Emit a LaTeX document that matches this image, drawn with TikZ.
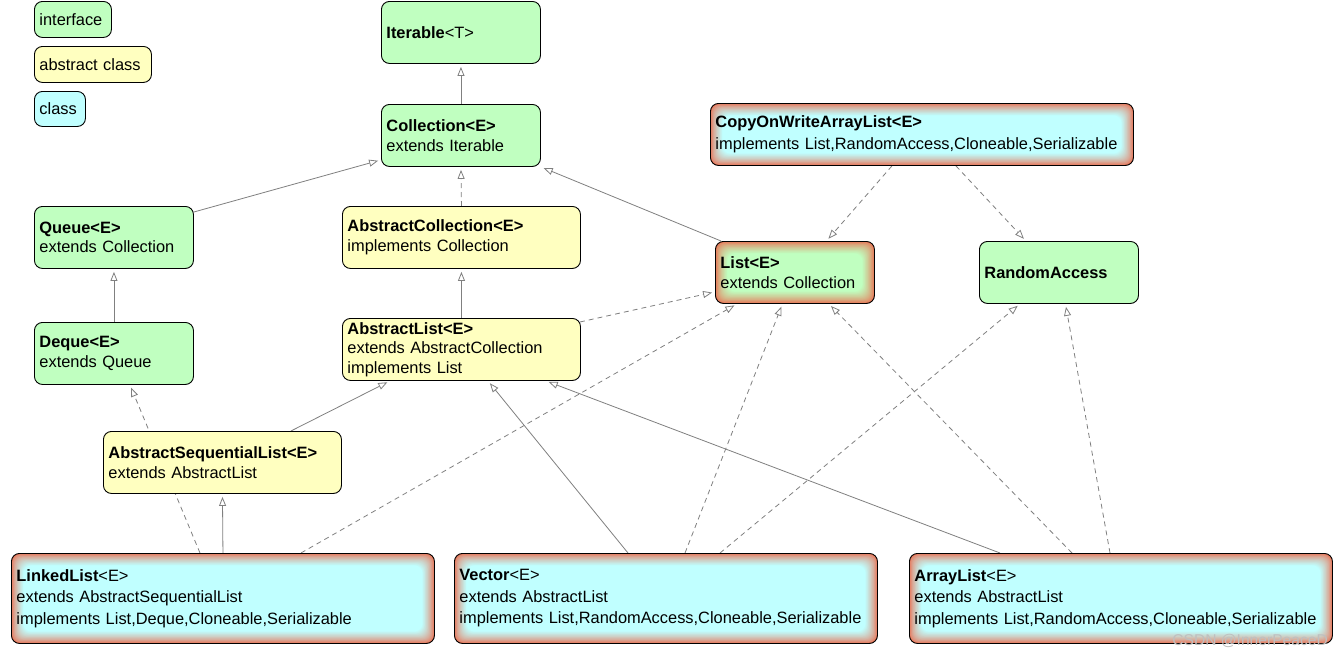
\documentclass[tikz,border=0pt]{standalone}
\usepackage{fontspec}
\setmainfont{Liberation Sans}
\usetikzlibrary{arrows.meta,backgrounds}
\definecolor{ifc}{RGB}{192,255,192}
\definecolor{abc}{RGB}{255,255,192}
\definecolor{clc}{RGB}{192,255,255}
\definecolor{glowred}{RGB}{234,112,82}
\definecolor{linec}{RGB}{128,128,128}
\tikzset{
 box/.style={draw=black, line width=0.9pt, rounded corners=8pt, inner xsep=5pt, inner ysep=0pt, align=left, font=\fontsize{16.4}{19.5}\selectfont},
 iface/.style={box, fill=ifc},
 abst/.style={box, fill=abc},
 cls/.style={box, fill=clc, font=\fontsize{16.4}{21.5}\selectfont},
 glow/.style={path picture={\foreach \i in {0,...,20}{\pgfmathsetmacro\p{100*(\i/20)^0.7}\fill[rounded corners=8pt, #1!\p!glowred] ([shift={({\i*0.6pt},{-\i*0.6pt})}]path picture bounding box.north west) rectangle ([shift={({-\i*0.6pt},{\i*0.6pt})}]path picture bounding box.south east);}}},
 gen/.style={draw=linec, line width=0.8pt, -{Triangle[open,length=9pt,width=7pt]}, shorten >=3pt},
 real/.style={gen, dash pattern=on 5pt off 4pt},
}
\newcommand\mybox[7]{%
 \pgfmathsetmacro\myBW{#4-#2}\pgfmathsetmacro\myBH{#5-#3}\pgfmathsetmacro\myTW{#4-#2-10}%
 \node[#6, anchor=north west, minimum width=\myBW pt, minimum height=\myBH pt, text width=\myTW pt] (#1) at (#2,#3) {#7};}
\begin{document}
\begin{tikzpicture}[x=1pt,y=-1pt]
\useasboundingbox (0,0) rectangle (1343,656);
\mybox{lgi}{34}{1}{111}{37}{iface}{interface}
\mybox{lga}{34}{46}{151}{82}{abst}{abstract class}
\mybox{lgc}{34}{91}{85}{126}{cls}{class}
\mybox{iter}{381}{1}{540}{63}{iface}{\textbf{Iterable}<T>}
\mybox{coll}{381}{104}{540}{166}{iface}{\textbf{Collection<E>}\\extends Iterable}
\mybox{queue}{34}{206}{193}{268}{iface}{\textbf{Queue<E>}\\extends Collection}
\mybox{acoll}{342}{206}{580}{268}{abst}{\textbf{AbstractCollection<E>}\\implements Collection}
\mybox{list}{715}{241}{874}{303}{iface,glow=ifc}{\textbf{List<E>}\\extends Collection}
\mybox{ra}{979}{241}{1138}{303}{iface}{\textbf{RandomAccess}}
\mybox{cow}{710}{103}{1133}{165}{cls,glow=clc}{\textbf{CopyOnWriteArrayList<E>}\\implements List,RandomAccess,Cloneable,Serializable}
\mybox{deque}{34}{322}{193}{384}{iface}{\textbf{Deque<E>}\\extends Queue}
\mybox{alist}{342}{318}{580}{380}{abst}{\textbf{AbstractList<E>}\\extends AbstractCollection\\implements List}
\mybox{asl}{103}{431}{341}{493}{abst}{\textbf{AbstractSequentialList<E>}\\extends AbstractList}
\mybox{linked}{11}{553}{434}{643}{cls,glow=clc}{\textbf{LinkedList}<E>\\extends AbstractSequentialList\\implements List,Deque,Cloneable,Serializable}
\mybox{vector}{454}{553}{877}{643}{cls,glow=clc}{\textbf{Vector}<E>\\extends AbstractList\\implements List,RandomAccess,Cloneable,Serializable}
\mybox{arrayl}{909}{553}{1332}{643}{cls,glow=clc}{\textbf{ArrayList}<E>\\extends AbstractList\\implements List,RandomAccess,Cloneable,Serializable}
\node[text=gray!50, font=\fontsize{15.6}{18}\selectfont, anchor=base east, inner sep=0pt] (wm) at (1328,645) {CSDN @InnerPeaceD};
\begin{scope}[on background layer]
\fill[white] (0,0) rectangle (1343,656);
\draw[gen] (coll.north) -- (iter.south);
\draw[gen] ([shift={(0pt,-6pt)}]queue.north east) -- ([shift={(0pt,7pt)}]coll.south west);
\draw[real] (acoll.north) -- (coll.south);
\draw[gen] ([shift={(6pt,0pt)}]list.north west) -- (coll.south east);
\draw[real] ([shift={(-30pt,0pt)}]cow.south) -- ([shift={(31.5pt,0pt)}]list.north);
\draw[real] ([shift={(34pt,0pt)}]cow.south) -- ([shift={(-33pt,0pt)}]ra.north);
\draw[gen] (deque.north) -- (queue.south);
\draw[gen] (alist.north) -- (acoll.south);
\draw[real] ([shift={(-1pt,-4pt)}]alist.north east) -- ([shift={(0pt,12pt)}]list.south west);
\draw[real] ([shift={(189pt,0pt)}]linked.north west) -- ([shift={(16pt,0pt)}]deque.south);
\draw[gen] ([shift={(-51pt,0pt)}]asl.north east) -- ([shift={(48pt,0pt)}]alist.south west);
\draw[gen] (linked.north) -- (asl.south);
\draw[real] ([shift={(78pt,0pt)}]linked.north) -- ([shift={(22pt,0pt)}]list.south west);
\draw[gen] ([shift={(174pt,0pt)}]vector.north west) -- ([shift={(146pt,0pt)}]alist.south west);
\draw[real] ([shift={(231pt,0pt)}]vector.north west) -- ([shift={(-12.5pt,0pt)}]list.south);
\draw[real] ([shift={(266pt,0pt)}]vector.north west) -- ([shift={(41pt,0pt)}]ra.south west);
\draw[gen] ([shift={(91pt,0pt)}]arrayl.north west) -- ([shift={(-35pt,0pt)}]alist.south east);
\draw[real] ([shift={(163pt,0pt)}]arrayl.north west) -- ([shift={(-46pt,0pt)}]list.south east);
\draw[real] ([shift={(201pt,0pt)}]arrayl.north west) -- ([shift={(6.5pt,0pt)}]ra.south);
\end{scope}
\end{tikzpicture}
\end{document}
